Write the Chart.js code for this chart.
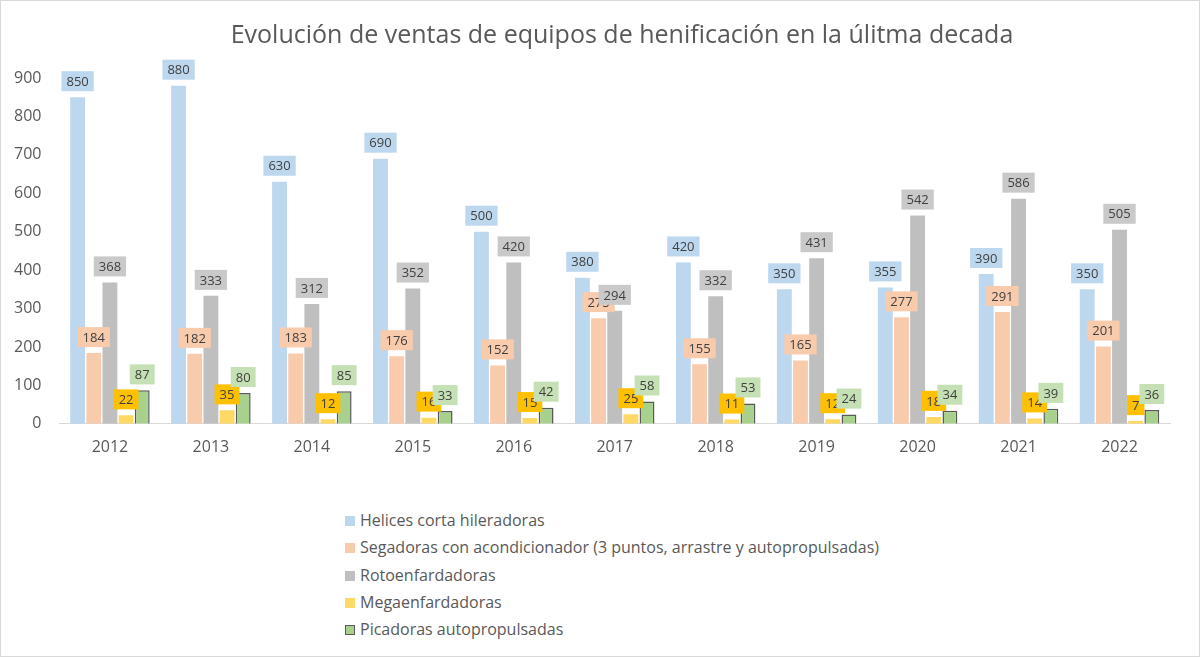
<!DOCTYPE html>
<html lang="es">
<head>
    <meta charset="UTF-8">
    <title>Ventas equipos de henificación</title>
    <script src="https://cdn.jsdelivr.net/npm/chart.js"></script>
    <style>
        body { margin: 0; background: #fff; font-family: "Open Sans", sans-serif; }
        #wrap { position: relative; width: 1198px; height: 655px; border: 1px solid #d9d9d9; background: #fff; }
        #title { position: absolute; left: 21px; width: 1200px; top: 14px; text-align: center; color: #595959; font-size: 25px; line-height: 36px; white-space: nowrap; }
        #box { position: absolute; left: 0; top: 0; width: 1198px; height: 462px; }
        #legend { position: absolute; left: 344px; top: 506px; color: #595959; font-size: 16px; }
        #legend div { height: 27.3px; line-height: 27px; white-space: nowrap; }
        #legend span.mk { display: inline-block; width: 10px; height: 10px; margin-right: 5px; vertical-align: 0px; box-sizing: border-box; }
    </style>
</head>
<body>
<div id="wrap">
    <div id="box"><canvas id="chart"></canvas></div>
    <div id="title">Evolución de ventas de equipos de henificación en la úlitma decada</div>
    <div id="legend"></div>
</div>
<script>
    const years = ['2012', '2013', '2014', '2015', '2016', '2017', '2018', '2019', '2020', '2021', '2022'];
    const helices = [850, 880, 630, 690, 500, 380, 420, 350, 355, 390, 350];
    const segadoras = [184, 182, 183, 176, 152, 275, 155, 165, 277, 291, 201];
    const rotoenf = [368, 333, 312, 352, 420, 294, 332, 431, 542, 586, 505];
    const megaenf = [22, 35, 12, 16, 15, 25, 11, 12, 18, 14, 7];
    const picadoras = [87, 80, 85, 33, 42, 58, 53, 24, 34, 39, 36];

    // label boxes drawn on top of each bar
    const barLabels = {
        id: 'barLabels',
        afterDatasetsDraw(chart) {
            const ctx = chart.ctx;
            ctx.save();
            ctx.font = '13px "Open Sans"';
            ctx.textAlign = 'center';
            ctx.textBaseline = 'middle';
            chart.data.datasets.forEach((ds, i) => {
                const meta = chart.getDatasetMeta(i);
                meta.data.forEach((bar, j) => {
                    const txt = String(ds.data[j]);
                    const w = ctx.measureText(txt).width + 10;
                    const h = 20;
                    const y = bar.y - 6 - h;
                    ctx.fillStyle = ds.labelBg;
                    ctx.fillRect(bar.x - w / 2, y, w, h);
                    ctx.fillStyle = '#404040';
                    ctx.fillText(txt, bar.x, y + h / 2 + 1);
                });
            });
            ctx.restore();
        }
    };

    const chart = new Chart(document.getElementById('chart'), {
        type: 'bar',
        data: {
            labels: years,
            datasets: [
                { label: 'Helices corta hileradoras', data: helices, backgroundColor: '#bdd7ee', labelBg: '#bdd7ee' },
                { label: 'Segadoras con acondicionador (3 puntos, arrastre y autopropulsadas)', data: segadoras, backgroundColor: '#f8cbad', labelBg: '#f8cbad' },
                { label: 'Rotoenfardadoras', data: rotoenf, backgroundColor: '#bfbfbf', labelBg: '#c9c9c9' },
                { label: 'Megaenfardadoras', data: megaenf, backgroundColor: '#ffd966', labelBg: '#ffc000' },
                { label: 'Picadoras autopropulsadas', data: picadoras, backgroundColor: '#a9d18e', borderColor: '#595959', borderWidth: 1.5, labelBg: '#c5e0b4' }
            ]
        },
        options: {
            responsive: true,
            maintainAspectRatio: false,
            animation: false,
            datasets: { bar: { categoryPercentage: 0.8, barPercentage: 0.92 } },
            layout: { padding: { left: 3, right: 29, top: 77, bottom: 0 } },
            plugins: {
                legend: { display: false },
                tooltip: { enabled: false },
                title: { display: false }
            },
            scales: {
                x: {
                    grid: { display: false },
                    border: { display: true, color: '#d9d9d9' },
                    ticks: { color: '#595959', font: { family: 'Open Sans', size: 16 }, padding: 6 }
                },
                y: {
                    min: 0, max: 900,
                    grid: { display: false },
                    border: { display: false },
                    ticks: { stepSize: 100, color: '#595959', font: { family: 'Open Sans', size: 16 }, padding: 10 }
                }
            }
        },
        plugins: [barLabels]
    });

    // legend as a vertical list, like the original
    const legend = document.getElementById('legend');
    chart.data.datasets.forEach(ds => {
        const row = document.createElement('div');
        const mk = document.createElement('span');
        mk.className = 'mk';
        mk.style.background = ds.backgroundColor;
        if (ds.borderWidth) mk.style.border = '1.5px solid ' + ds.borderColor;
        row.appendChild(mk);
        row.appendChild(document.createTextNode(ds.label));
        legend.appendChild(row);
    });
</script>
</body>
</html>
